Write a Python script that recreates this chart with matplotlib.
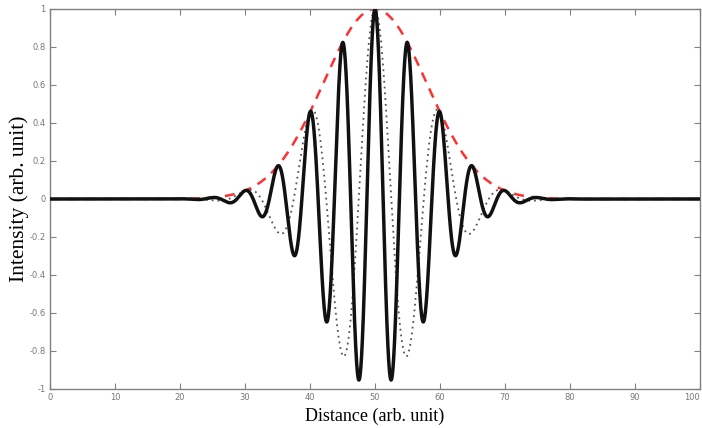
import numpy as np
import matplotlib
matplotlib.use("Agg")
import matplotlib.pyplot as plt

# pulse parameters
center = 50.0
width = 8.0
period_fast = 5.0
period_slow = 10.0

x = np.linspace(0, 100, 4001)
envelope = np.exp(-(x - center) ** 2 / (2 * width ** 2))
fast = envelope * np.cos(2 * np.pi * (x - center) / period_fast)
slow = envelope * np.cos(2 * np.pi * (x - center) / period_slow)

xticks = np.arange(0, 101, 10)
yticks = np.round(np.arange(-1, 1.01, 0.2), 1)
ytick_labels = ["-1", "-0.8", "-0.6", "-0.4", "-0.2", "0", "0.2", "0.4", "0.6", "0.8", "1"]

fig = plt.figure(figsize=(7.02, 4.28), dpi=100)
ax = fig.add_axes([50 / 702, 1 - 389 / 428, 650 / 702, 380 / 428])

ax.plot(x, envelope, color="#ff3030", lw=1.8, ls=(0, (4, 3)), zorder=1)
ax.plot(x, slow, color="#555555", lw=1.3, ls=(0, (1, 2.2)), zorder=2)
ax.plot(x, fast, color="#111111", lw=2.5, zorder=3)

ax.set_xlim(0, 100)
ax.set_ylim(-1, 1)
ax.set_xticks(xticks)
ax.set_yticks(yticks)
ax.set_xticklabels([str(t) for t in xticks])
ax.set_yticklabels(ytick_labels)
# keep the last x label inside the figure
ax.get_xticklabels()[-1].set_horizontalalignment("right")

for s in ax.spines.values():
    s.set_color("#808080")
    s.set_linewidth(1.0)
ax.tick_params(direction="in", length=4, width=0.8, color="#808080",
               labelsize=6, labelcolor="#777777", top=True, right=True, pad=3)

ax.set_xlabel("Distance (arb. unit)", fontsize=13, family="Liberation Serif", labelpad=4)
ax.set_ylabel("Intensity (arb. unit)", fontsize=15.5, family="Liberation Serif")
ax.yaxis.set_label_coords(-0.033, 0.5)

fig.savefig("out.png", dpi=100)
